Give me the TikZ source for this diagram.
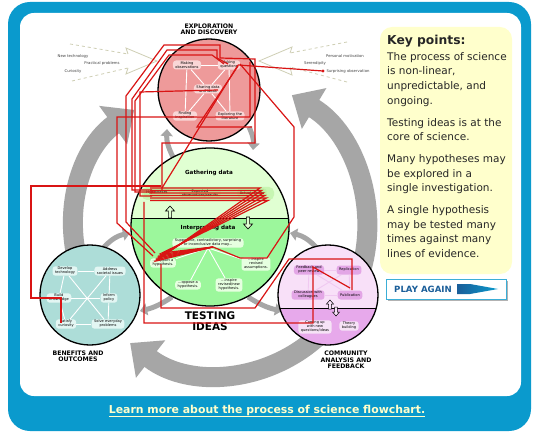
\documentclass[tikz,border=0pt]{standalone}
\usepackage{fontspec}
\setmainfont{DejaVu Sans}
\usepackage{tikz}
\usetikzlibrary{arrows.meta,shapes.geometric,positioning}
\definecolor{frameblue}{HTML}{0A9ACD}
\definecolor{keyyellow}{HTML}{FFFFCC}
\definecolor{linkyellow}{HTML}{FFFFCC}
\definecolor{ringgray}{HTML}{A6A6A6}
\definecolor{inputgray}{HTML}{CFCFB5}
\definecolor{tracered}{HTML}{D91414}
\definecolor{explorepink}{HTML}{EE9A9A}
\definecolor{explorebox}{HTML}{F9D6D6}
\definecolor{testtop}{HTML}{E0FFD2}
\definecolor{testlow}{HTML}{9CF79C}
\definecolor{gatherbox}{HTML}{BDF2A4}
\definecolor{testbox}{HTML}{E6FFE0}
\definecolor{benefitteal}{HTML}{ADDDD8}
\definecolor{benefitbox}{HTML}{E3F6F3}
\definecolor{commtop}{HTML}{F8E0F8}
\definecolor{commlow}{HTML}{E7A9EB}
\definecolor{commbox}{HTML}{E3A6E6}
\definecolor{commpale}{HTML}{F6E3F6}
\definecolor{playblue}{HTML}{1A5E99}
\tikzstyle{circ} = [circle, draw=black, line width=1.3pt, inner sep=0pt]
\tikzstyle{bub} = [rounded corners=3pt, inner xsep=2.5pt, inner ysep=1pt, minimum height=9pt, align=center, font=\fontsize{3.6}{4}\selectfont]
\tikzstyle{link} = [draw=white, line width=0.9pt]
\tikzstyle{head} = [font=\bfseries\fontsize{6.2}{6.4}\selectfont, align=center]
\tikzstyle{ring} = [draw=ringgray, line width=20pt, -{Triangle[length=26pt,width=46pt]}]
\tikzstyle{nub} = [draw=ringgray, line width=5pt, -{Triangle[length=7pt,width=12pt]}]
\tikzstyle{trace} = [draw=tracered, line width=1.2pt]
\tikzstyle{input} = [draw=inputgray, line width=0.8pt, dashed]
\tikzstyle{cue} = [font=\fontsize{3.8}{4}\selectfont, text=black!75]

\begin{document}
\begin{tikzpicture}[x=1pt,y=-1pt]
\useasboundingbox (0,0) rectangle (534,435);
\fill[frameblue, rounded corners=22pt] (8,2) rectangle (531,431);
\fill[white, rounded corners=14pt] (20,13) rectangle (521,396);

\draw[ring] (220,228) ++(212:146pt) arc[start angle=212, end angle=126, radius=146pt];
\draw[ring] (212,228) ++(-20:155pt) arc[start angle=-20, end angle=59, radius=155pt];
\draw[ring] (220,228) ++(-40:146pt) arc[start angle=-40, end angle=-128, radius=146pt];
\draw[nub] (173,157) to[bend left=15] (167,129);
\draw[nub] (249,127) to[bend left=15] (253,150);
\draw[nub] (100,252) to[bend left=20] (130,233);
\draw[nub] (320,252) to[bend right=20] (290,233);
\draw[nub] (172,297) to[bend left=10] (140,311);
\draw[nub] (248,297) to[bend right=10] (282,311);

\draw[input] (70,44) -- (128,54);
\draw[input] (72,81) -- (128,68);
\draw[draw=inputgray, line width=0.8pt, fill=white] (128,54) -- (126,48) -- (157,61) -- (126,74) -- (128,68);
\draw[input] (347,42) -- (290,53);
\draw[input] (347,82) -- (290,67);
\draw[draw=inputgray, line width=0.8pt, fill=white] (290,53) -- (292,47) -- (259,61) -- (292,75) -- (290,67);
\node[cue] (newtech) at (73,56) {New technology};
\node[cue] (practical) at (102,63) {Practical problems};
\node[cue] (curiosity) at (73,71) {Curiosity};
\node[cue] (motivation) at (345,56) {Personal motivation};
\node[cue] (serendipity) at (315,63) {Serendipity};
\node[cue] (surprise) at (348,71) {Surprising observation};

\node[circ, fill=explorepink, minimum size=102pt] (explore) at (209,90) {};
\node[head] (exptitle) at (209,29) {EXPLORATION\\AND DISCOVERY};
\node[bub, fill=explorebox] (observe) at (187,65) {Making\\observations};
\node[bub, fill=explorebox] (question) at (229,65) {Asking\\questions};
\node[bub, fill=explorebox] (share) at (208,89) {Sharing data\\and ideas};
\node[bub, fill=explorebox] (inspire) at (185,116) {Finding\\inspiration};
\node[bub, fill=explorebox] (literature) at (230,116) {Exploring the\\literature};
\draw[link] (observe) -- (question);
\draw[link] (observe) -- (inspire);
\draw[link] (question) -- (literature);
\draw[link] (inspire) -- (literature);
\draw[link] (observe) -- (share);
\draw[link] (question) -- (share);
\draw[link] (share) -- (inspire);
\draw[link] (share) -- (literature);

\fill[testtop] (210,227) circle (79pt);
\begin{scope}
\clip (210,227) circle (79pt);
\fill[testlow] (120,218) rectangle (300,310);
\end{scope}
\node[circ, minimum size=158pt] (testing) at (210,227) {};
\draw[line width=0.8pt] (131.5,218) -- (288.5,218);
\node[head, font=\bfseries\fontsize{5.6}{6}\selectfont] (gather) at (209,173) {Gathering data};
\fill[gatherbox!70!testtop, rounded corners=5pt] (142,187) rectangle (274,200);
\node[bub, fill=gatherbox] (hypo) at (157,193) {Hypotheses};
\node[bub, fill=gatherbox] (expect) at (200,193) {Expected\\observations/results};
\node[bub, fill=gatherbox] (actual) at (252,193) {Actual results};
\node[head, font=\bfseries\fontsize{5.6}{6}\selectfont] (interp) at (208,228) {Interpreting data};
\node[bub, fill=testbox] (mixed) at (208,243) {Supportive, contradictory, surprising\\or inconclusive data may...};
\node[bub, fill=testbox] (support) at (163,263) {...support a\\hypothesis.};
\node[bub, fill=testbox] (assume) at (256,264) {...inspire\\revised\\assumptions.};
\node[bub, fill=testbox] (oppose) at (188,285) {...oppose a\\hypothesis.};
\node[bub, fill=testbox] (newhypo) at (229,285) {...inspire\\revised/new\\hypothesis.};
\draw[link] (mixed.south) -- (support);
\draw[link] (mixed.south) -- (assume);
\draw[link] (mixed.south) -- (oppose);
\draw[link] (mixed.south) -- (newhypo);
\draw[fill=testtop, line width=0.6pt, shift={(170,212)}] (0,-6) -- (4.5,-1) -- (1.6,-1) -- (1.6,6) -- (-1.6,6) -- (-1.6,-1) -- (-4.5,-1) -- cycle;
\draw[fill=testtop, line width=0.6pt, shift={(248,223)}] (0,6) -- (4.5,1) -- (1.6,1) -- (1.6,-6) -- (-1.6,-6) -- (-1.6,1) -- (-4.5,1) -- cycle;
\node[font=\bfseries\fontsize{10.5}{11}\selectfont, align=center] (testtitle) at (210,321) {TESTING\\IDEAS};

\node[circ, fill=benefitteal, minimum size=100pt] (benefits) at (90,295) {};
\node[head] (bentitle) at (78,356) {BENEFITS AND\\OUTCOMES};
\node[bub, fill=benefitbox] (develop) at (65,271) {Develop\\technology};
\node[bub, fill=benefitbox] (address) at (110,271) {Address\\societal issues};
\node[bub, fill=benefitbox] (build) at (59,298) {Build\\knowledge};
\node[bub, fill=benefitbox] (policy) at (109,298) {Inform\\policy};
\node[bub, fill=benefitbox] (satisfy) at (66,324) {Satisfy\\curiosity};
\node[bub, fill=benefitbox] (solve) at (108,324) {Solve everyday\\problems};
\draw[link] (develop) -- (address);
\draw[link] (develop) -- (build);
\draw[link] (build) -- (satisfy);
\draw[link] (satisfy) -- (solve);
\draw[link] (address) -- (policy);
\draw[link] (policy) -- (solve);
\draw[link] (build) -- (policy);
\draw[link] (develop) -- (solve);
\draw[link] (address) -- (satisfy);

\fill[commtop] (328,295) circle (50pt);
\begin{scope}
\clip (328,295) circle (50pt);
\fill[commlow] (270,308) rectangle (390,350);
\end{scope}
\node[circ, minimum size=100pt] (community) at (328,295) {};
\draw[line width=0.8pt] (279.7,308) -- (376.3,308);
\node[head] (comtitle) at (346,360) {COMMUNITY\\ANALYSIS AND\\FEEDBACK};
\node[bub, fill=commbox] (feedback) at (309,270) {Feedback and\\peer review};
\node[bub, fill=commbox] (replicate) at (349,270) {Replication};
\node[bub, fill=commbox] (discuss) at (308,295) {Discussion with\\colleagues};
\node[bub, fill=commbox] (publish) at (350,295) {Publication};
\node[bub, fill=commpale] (newideas) at (315,327) {Coming up\\with new\\questions/ideas};
\node[bub, fill=commpale] (theory) at (349,326) {Theory\\building};
\draw[link, draw=commtop!60!commbox] (feedback) -- (replicate);
\draw[link, draw=commtop!60!commbox] (feedback) -- (discuss);
\draw[link, draw=commtop!60!commbox] (replicate) -- (publish);
\draw[link, draw=commtop!60!commbox] (discuss) -- (publish);
\draw[link, draw=commtop!60!commbox] (feedback) -- (publish);
\draw[link, draw=commtop!60!commbox] (discuss) -- (replicate);
\draw[fill=commtop, line width=0.5pt, shift={(330,305)}] (0,-5) -- (3.5,-1) -- (1.3,-1) -- (1.3,4) -- (-1.3,4) -- (-1.3,-1) -- (-3.5,-1) -- cycle;
\draw[fill=commtop, line width=0.5pt, shift={(336,311)}] (0,5) -- (3.5,1) -- (1.3,1) -- (1.3,-4) -- (-1.3,-4) -- (-1.3,1) -- (-3.5,1) -- cycle;

\draw[trace] (61,323) -- (61,298) -- (31,298) -- (31,186) -- (161,186);
\draw[trace] (155,253) -- (126,222) -- (126,96) -- (164,45) -- (220,45) -- (220,58) -- (255,59) -- (255,143) -- (162,143) -- (162,190);
\draw[trace] (152,190) -- (132,190) -- (132,99) -- (167,50) -- (217,50) -- (217,58) -- (228,64);
\draw[trace] (155,192) -- (135,192) -- (135,101) -- (169,55) -- (212,55) -- (224,64);
\draw[trace] (153,256) -- (117,223) -- (117,117) -- (250,117) -- (250,62);
\draw[trace] (152,196) -- (140,196) -- (140,92) -- (218,90);
\draw[trace] (238,66) -- (197,127) -- (252,127);
\draw[trace] (238,65) -- (162,188);
\draw[trace] (238,65) -- (323,71);
\fill[tracered] (323,71) circle (1.6pt);
\draw[trace] (240,64) -- (294,127) -- (294,217) -- (267,258) -- (240,258) -- (213,247);
\draw[trace] (144,202) -- (144,323) -- (313,323) -- (313,267) -- (350,288);
\draw[trace] (161,264) -- (161,308) -- (255,308) -- (289,259) -- (352,259) -- (352,290);
\foreach \i in {0,...,5}
  \draw[trace] (150,188+2.5*\i) -- (260+1.6*\i,188+2.5*\i) -- (156+1.2*\i,261-1.6*\i) -- (213,247);

\fill[keyyellow, rounded corners=12pt] (380,27) rectangle (512,274);
\node[anchor=north west, align=left, inner sep=0pt, text=black!85, font=\fontsize{10.5}{14.7}\selectfont] (keytext) at (387,35)
  {{\bfseries\fontsize{12.3}{14}\selectfont Key points:}\\[1pt]
   The process of science\\ is non-linear,\\ unpredictable, and\\ ongoing.\\[7pt]
   Testing ideas is at the\\ core of science.\\[7pt]
   Many hypotheses may\\ be explored in a\\ single investigation.\\[7pt]
   A single hypothesis\\ may be tested many\\ times against many\\ lines of evidence.};

\fill[black!30] (388,281) rectangle (508,301);
\draw[draw=frameblue!80, fill=white, line width=1pt] (386,279) rectangle (506,299);
\node[font=\bfseries\fontsize{8.6}{9}\selectfont, text=playblue] (play) at (423,289) {PLAY AGAIN};
\shade[left color=playblue, right color=frameblue] (457,284) -- (470,284) -- (498,289) -- (470,294) -- (457,294) -- cycle;

\node[font=\bfseries\fontsize{10.9}{12}\selectfont, text=linkyellow] (learn) at (267,411) {\underline{Learn more about the process of science flowchart.}};
\end{tikzpicture}
\end{document}
